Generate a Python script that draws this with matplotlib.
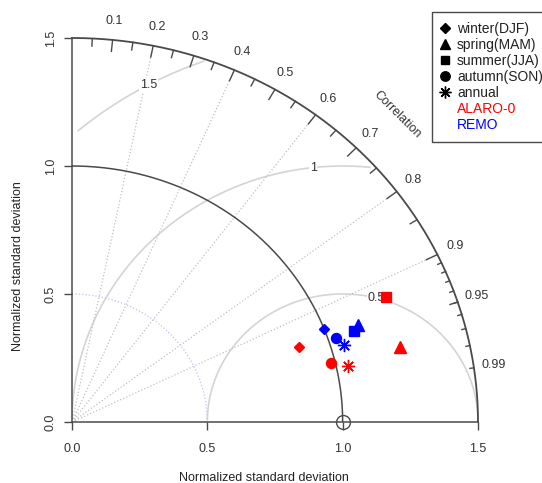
import numpy as np
import matplotlib.pyplot as plt
from matplotlib.lines import Line2D

plt.rcParams['font.family'] = ['Liberation Sans', 'DejaVu Sans']

# seasons and their marker shapes
seasons = ['winter(DJF)', 'spring(MAM)', 'summer(JJA)', 'autumn(SON)', 'annual']
season_markers = ['D', '^', 's', 'o', (8, 2, 0)]
marker_sizes = [5.6, 8.2, 6.8, 7.2, 9.5]

models = ['ALARO-0', 'REMO']
model_colors = ['#ff0000', '#0000ff']

# normalized standard deviation and correlation, one value per season
alaro_sd = [0.888, 1.247, 1.258, 0.984, 1.044]
alaro_cor = [0.944, 0.972, 0.921, 0.972, 0.978]
remo_sd = [1.000, 1.121, 1.101, 1.028, 1.049]
remo_cor = [0.932, 0.941, 0.946, 0.948, 0.958]

ref_sd = 1.0
max_sd = 1.5
rms_levels = [0.5, 1.0, 1.5]
corr_lines = [0.2, 0.4, 0.6, 0.8, 0.9]
sd_arcs = [0.5]
corr_labels = [0.1, 0.2, 0.3, 0.4, 0.5, 0.6, 0.7, 0.8, 0.9, 0.95, 0.99]
axis_ticks = [0.0, 0.5, 1.0, 1.5]

dark = '#4a4a4a'
fig = plt.figure(figsize=(5.42, 4.83), dpi=100)
ax = fig.add_axes([72 / 542, 61 / 483, 406 / 542, 384 / 483])
ax.set_xlim(0, max_sd)
ax.set_ylim(0, max_sd)

# centred RMS difference arcs
t = np.arange(0, np.pi, 0.03)
label_pos = np.linspace(45, 70, len(rms_levels)).astype(int) - 1
for g, lp in zip(rms_levels, label_pos):
    xc = np.cos(t) * g + ref_sd
    yc = np.sin(t) * g
    keep = (xc >= 0) & (xc ** 2 + yc ** 2 <= max_sd ** 2)
    ax.plot(xc[keep], yc[keep], color='#d4d4d4', lw=1.2, zorder=1)
    ax.text(xc[lp], yc[lp], '%g' % g, ha='center', va='center', fontsize=9,
            color='#333333', zorder=2,
            bbox=dict(fc='white', ec='none', pad=0.5))

# correlation rays
for c in corr_lines:
    ax.plot([0, max_sd * c], [0, max_sd * np.sqrt(1 - c ** 2)], ls=':',
            color='#c0c0c0', lw=0.9, zorder=1)

# standard deviation arcs
th = np.linspace(0, np.pi / 2, 200)
for s in sd_arcs:
    ax.plot(np.cos(th) * s, np.sin(th) * s, ls=':', color='#c0c0f2', lw=0.9, zorder=1)
ax.plot(np.cos(th) * ref_sd, np.sin(th) * ref_sd, color=dark, lw=1.1, zorder=2)
ax.plot(np.cos(th) * max_sd, np.sin(th) * max_sd, color=dark, lw=1.3,
        zorder=2, clip_on=False)

# ticks on the outer arc
big = np.arccos(np.arange(1, 10) / 10)
med = np.arccos(np.arange(0.05, 0.96, 0.1))
sml = np.arccos(np.arange(91, 100) / 100)
for ang, frac in [(big, 0.97), (med, 0.98), (sml, 0.99)]:
    for a in ang:
        ax.plot([np.cos(a) * max_sd, np.cos(a) * frac * max_sd],
                [np.sin(a) * max_sd, np.sin(a) * frac * max_sd],
                color=dark, lw=1, zorder=2)

for c in corr_labels:
    a = np.arccos(c)
    ax.text(np.cos(a) * 1.05 * max_sd, np.sin(a) * 1.05 * max_sd, '%g' % c,
            ha='center', va='center', fontsize=9, color='#333333')
ax.text(max_sd * 0.8, max_sd * 0.8, 'Correlation', rotation=-45, ha='center',
        va='center', fontsize=9, color='#333333')

# reference point
ax.plot(ref_sd, 0, 'o', mfc='none', mec=dark, ms=10, mew=1, clip_on=False, zorder=4)

# model points
for sd_list, cor_list, col in [(alaro_sd, alaro_cor, model_colors[0]),
                               (remo_sd, remo_cor, model_colors[1])]:
    for sd, cr, mk, ms in zip(sd_list, cor_list, season_markers, marker_sizes):
        ax.plot(sd * cr, sd * np.sqrt(1 - cr ** 2), marker=mk, ms=ms, color=col,
                mew=1, ls='none', zorder=5)

# axes
for side in ['top', 'right']:
    ax.spines[side].set_visible(False)
for side in ['left', 'bottom']:
    ax.spines[side].set_color(dark)
    ax.spines[side].set_linewidth(1.1)
    ax.spines[side].set_bounds(0, max_sd)
ax.set_xticks(axis_ticks)
ax.set_xticklabels(['%.1f' % v for v in axis_ticks])
ax.set_yticks(axis_ticks)
ax.set_yticklabels(['%.1f' % v for v in axis_ticks], rotation=90, va='center')
ax.tick_params(direction='out', length=6, width=1, color=dark,
               labelcolor='#333333', labelsize=9)
ax.tick_params(axis='x', pad=9)
ax.tick_params(axis='y', pad=5)

fig.text(264 / 542, 1 - 478 / 483, 'Normalized standard deviation', ha='center',
         va='center', fontsize=9, color='#222222')
fig.text(18 / 542, 1 - 266 / 483, 'Normalized standard deviation', ha='center',
         va='center', rotation=90, fontsize=9, color='#222222')

# legend
leg_sizes = [5.0, 7.5, 6.0, 6.8, 8.5]
handles = [Line2D([], [], marker=mk, ms=ms, color='black', mew=1, ls='none')
           for mk, ms in zip(season_markers, leg_sizes)]
handles += [Line2D([], [], color='none') for _ in models]
leg = ax.legend(handles, seasons + models, loc='upper left',
                bbox_to_anchor=(432 / 542, 1 - 12 / 483),
                bbox_transform=fig.transFigure, borderaxespad=0,
                fancybox=False, framealpha=1, edgecolor=dark, fontsize=10,
                borderpad=0.7, handlelength=0.4, handletextpad=0.7,
                labelspacing=0.15, labelcolor=['#222222'] * 5 + model_colors)
leg.get_frame().set_linewidth(1)

fig.savefig('out.png', dpi=100)
